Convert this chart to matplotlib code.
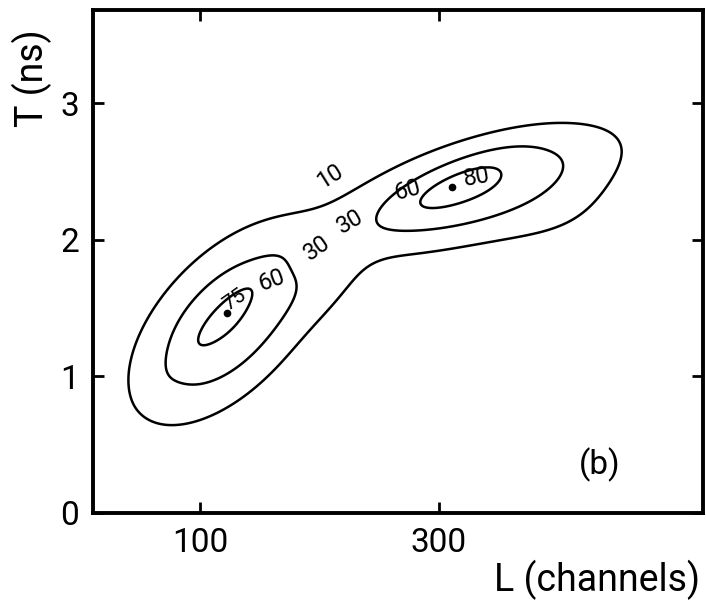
import numpy as np
import matplotlib
matplotlib.use("Agg")
import matplotlib.pyplot as plt

# ---- data ----
levels = [10, 30, 60]                 # contour levels drawn
peak_L = [122.5, 311]                 # channels
peak_T = [1.46, 2.385]                # ns
peak_val = [75, 80]

# field components: centre (L, T), height, axis angle (deg), sigma along / across
# (left broad, left core, right broad, right core, bridge, right tail)
comp_L     = [122, 122, 330, 313, 205, 405]
comp_T     = [1.39, 1.46, 2.37, 2.39, 1.70, 2.13]
comp_amp   = [56, 20, 55, 25, 10, 7]
comp_ang   = [40, 42, 15, 22, 38, 15]
comp_sa    = [0.53, 0.30, 0.68, 0.34, 0.30, 0.50]
comp_sb    = [0.28, 0.07, 0.20, 0.09, 0.15, 0.20]

plt.rcParams["font.family"] = ["Roboto", "DejaVu Sans"]

def field(L, T):
    u = L / 100.0
    z = np.zeros_like(u)
    for cl, ct, a, ang, sa, sb in zip(comp_L, comp_T, comp_amp, comp_ang, comp_sa, comp_sb):
        th = np.deg2rad(ang)
        du, dv = u - cl / 100.0, T - ct
        p = du * np.cos(th) + dv * np.sin(th)
        q = -du * np.sin(th) + dv * np.cos(th)
        z += a * np.exp(-0.5 * ((p / sa) ** 2 + (q / sb) ** 2))
    return z

Lg, Tg = np.meshgrid(np.linspace(10, 522, 500), np.linspace(0, 3.68, 400))
Z = field(Lg, Tg)

fig = plt.figure(figsize=(7.06, 6.02), dpi=100)
ax = fig.add_axes([0.132, 0.148, 0.864, 0.835])
ax.contour(Lg, Tg, Z, levels=levels, colors="black", linewidths=1.8)

ax.plot(peak_L, peak_T, "o", color="black", ms=4.5)

# hand placed contour / peak labels
lab = dict(fontsize=17, ha="center", va="center")
ax.text(209, 2.465, "10", rotation=32, **lab)
ax.text(198, 1.94, "30", rotation=35, **lab)
ax.text(226, 2.13, "30", rotation=30, **lab)
ax.text(160, 1.70, "60", rotation=20, **lab)
ax.text(274, 2.36, "60", rotation=15, **lab)
ax.text(129, 1.56, str(peak_val[0]), rotation=35, fontsize=15, ha="center", va="center")
ax.text(332, 2.46, str(peak_val[1]), rotation=10, **lab)
ax.text(435, 0.35, "(b)", fontsize=24, ha="center", va="center")

ax.set_xlim(10, 522)
ax.set_ylim(0, 3.68)
ax.set_xticks([100, 300])
ax.set_yticks([0, 1, 2, 3])
ax.tick_params(direction="in", length=8, width=2, labelsize=24, pad=10,
               top=True, right=True)
for s in ax.spines.values():
    s.set_linewidth(2.8)

fig.text(0.045, 0.87, "T (ns)", rotation=90, fontsize=27, ha="center", va="center")
fig.text(0.845, 0.037, "L (channels)", fontsize=27, ha="center", va="center")

fig.savefig("out.png", dpi=100)
